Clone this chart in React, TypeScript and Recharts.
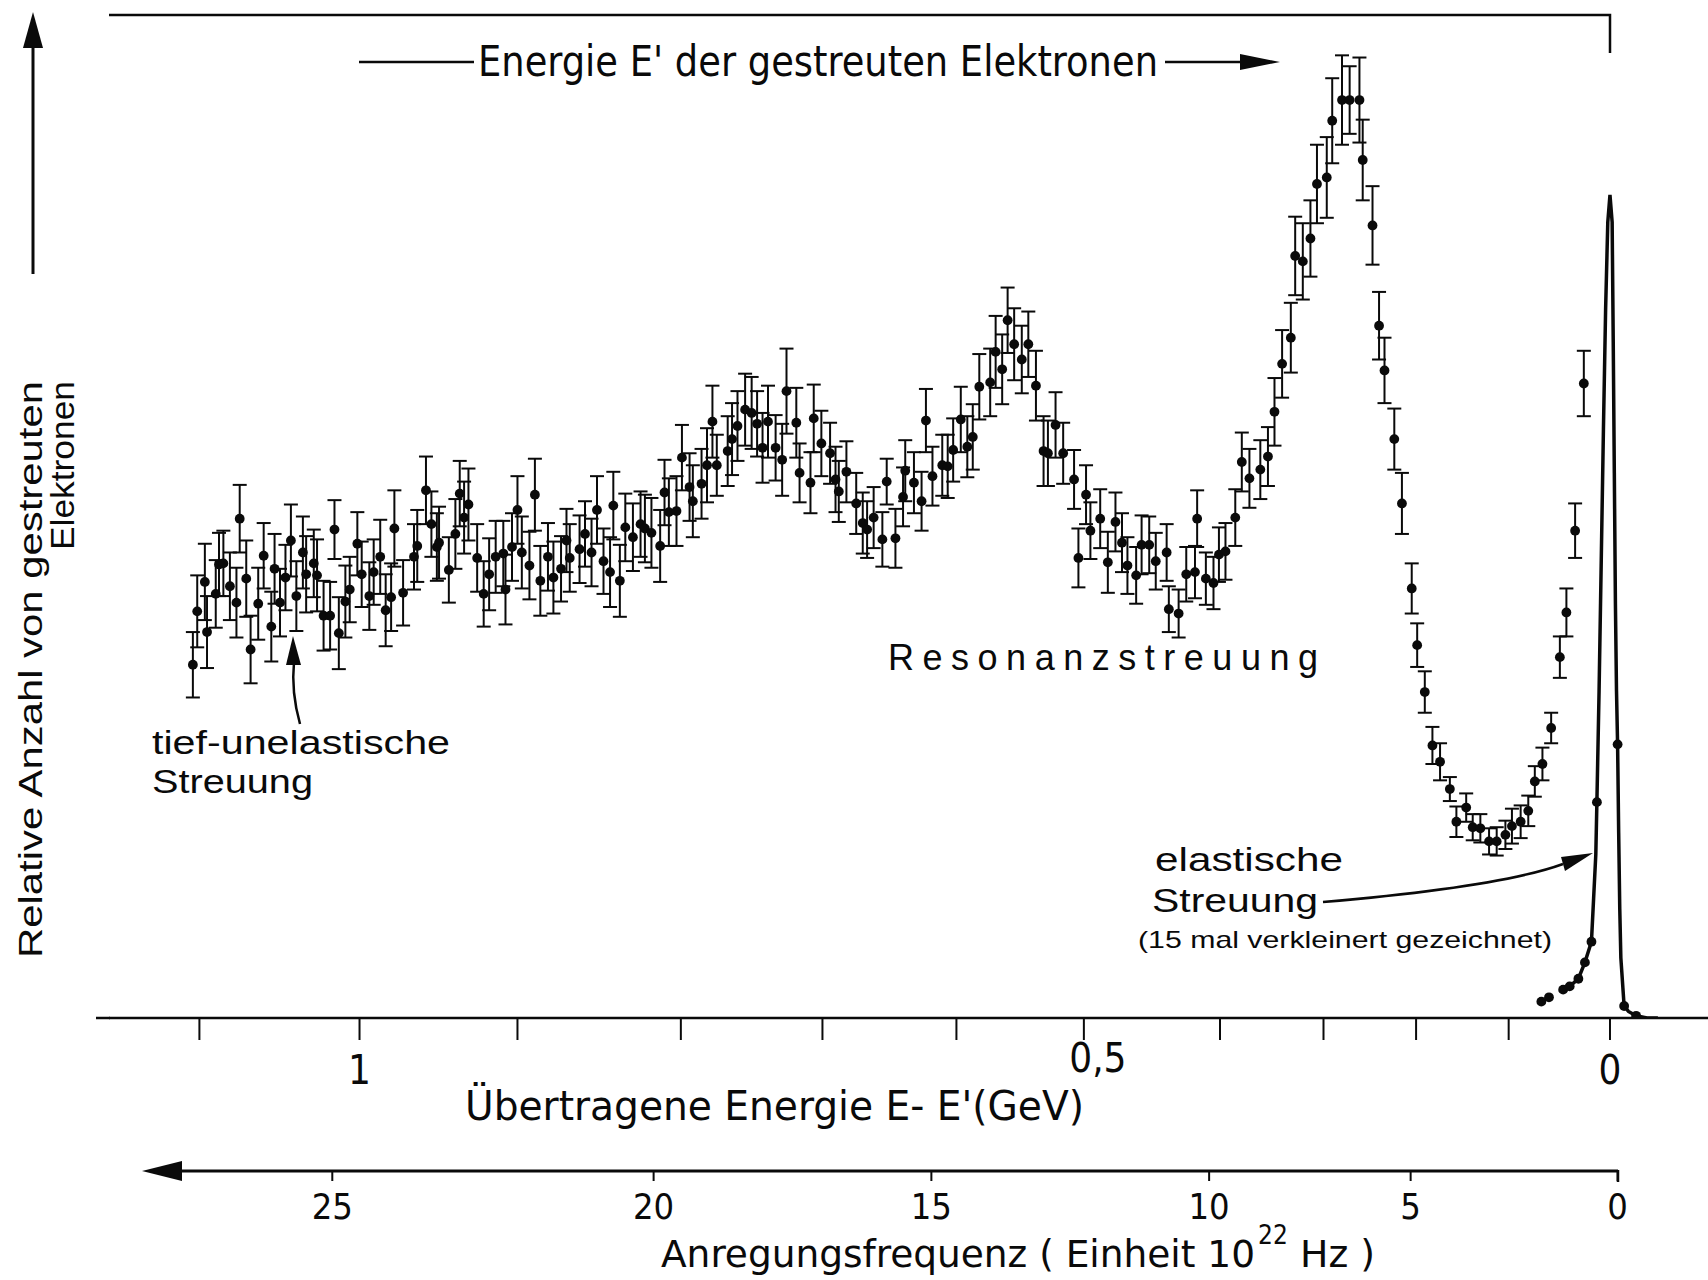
import React from "react";
import { ComposedChart, Scatter, ErrorBar, XAxis, YAxis } from "recharts";

// inelastic spectrum: channel (energy transfer, arbitrary linear units, 0 = elastic peak)
const channel = [
  1301, 1297, 1290, 1288, 1280, 1277, 1273, 1267, 1261, 1258, 1252, 1248, 1241, 1236, 1229, 1226, 1221, 1216, 1211, 1206,
  1200, 1197, 1190, 1187, 1181, 1175, 1171, 1167, 1161, 1157, 1150, 1146, 1139, 1135, 1129, 1124, 1119, 1116, 1108, 1098,
  1095, 1087, 1082, 1077, 1075, 1066, 1060, 1056, 1052, 1048, 1040, 1034, 1029, 1023, 1016, 1014, 1008, 1003, 999, 992,
  987, 982, 975, 970, 963, 958, 955, 946, 941, 935, 930, 924, 918, 915, 909, 904, 897, 890, 886, 880,
  872, 868, 864, 857, 852, 845, 842, 834, 829, 824, 820, 810, 806, 801, 794, 788, 783, 778, 773, 766,
  760, 756, 747, 744, 734, 731, 724, 716, 711, 708, 701, 692, 686, 682, 676, 668, 664, 656, 649, 647,
  639, 632, 628, 622, 613, 608, 603, 596, 590, 585, 579, 569, 564, 558, 553, 547, 540, 534, 527, 520,
  516, 509, 502, 492, 488, 481, 477, 468, 461, 454, 448, 443, 435, 430, 423, 417, 407, 405, 396, 389,
  381, 379, 371, 364, 359, 353, 344, 338, 331, 321, 314, 308, 301, 293, 289, 282, 275, 269, 260, 255,
  246, 239, 230, 227, 218, 212, 207, 198, 191, 182, 177, 170, 163, 156, 147, 141, 132, 126, 119, 111,
  104, 96, 90, 82, 75, 69, 62, 54, 46, 40, 32, 24
];
const counts = [
  324, 373, 400, 354, 389, 416, 417, 396, 381, 458, 403, 338, 380, 424, 359, 412, 381, 404, 438, 387,
  427, 407, 417, 406, 369, 369, 448, 353, 382, 393, 435, 407, 387, 409, 423, 374, 386, 449, 390, 423,
  433, 484, 453, 432, 436, 411, 444, 481, 459, 471, 422, 389, 407, 423, 426, 393, 432, 466, 427, 415,
  480, 401, 423, 404, 412, 438, 422, 430, 444, 427, 466, 419, 409, 470, 401, 450, 441, 453, 449, 445,
  433, 482, 464, 465, 514, 487, 474, 490, 507, 547, 507, 520, 531, 543, 558, 555, 545, 523, 547, 523,
  512, 575, 546, 500, 491, 550, 527, 518, 494, 483, 501, 472, 454, 448, 459, 439, 492, 440, 478, 502,
  491, 474, 548, 497, 507, 506, 521, 549, 524, 533, 579, 583, 611, 595, 640, 618, 604, 618, 580, 520,
  518, 544, 518, 494, 422, 480, 447, 458, 418, 455, 436, 415, 406, 434, 434, 419, 427, 375, 371, 407,
  409, 458, 403, 399, 425, 428, 459, 510, 495, 503, 515, 556, 600, 624, 699, 694, 715, 765, 771, 823,
  842, 842, 842, 787, 727, 635, 594, 531, 472, 394, 342, 299, 250, 235, 210, 180, 193, 175, 174, 162,
  162, 168, 176, 180, 190, 217, 233, 266, 331, 372, 447, 582
];
const countErr = [
  30, 33, 35, 33, 31, 29, 30, 31, 32, 31, 35, 31, 33, 30, 32, 32, 31, 30, 33, 32,
  33, 35, 31, 33, 32, 31, 27, 33, 33, 30, 29, 30, 31, 30, 34, 33, 31, 35, 30, 30,
  33, 31, 30, 31, 33, 30, 32, 30, 33, 33, 31, 30, 33, 33, 30, 32, 31, 31, 33, 31,
  33, 32, 31, 33, 30, 29, 31, 31, 30, 31, 31, 30, 32, 31, 33, 31, 31, 30, 31, 32,
  33, 30, 31, 32, 30, 31, 33, 32, 34, 33, 28, 32, 33, 32, 33, 33, 30, 32, 33, 30,
  33, 39, 32, 27, 28, 31, 30, 28, 30, 28, 28, 28, 28, 26, 28, 25, 21, 27, 27, 28,
  28, 27, 29, 27, 28, 29, 29, 30, 28, 30, 30, 31, 33, 32, 30, 33, 31, 30, 32, 32,
  30, 30, 28, 27, 27, 27, 26, 27, 28, 27, 27, 26, 26, 27, 26, 26, 26, 21, 22, 25,
  24, 26, 24, 24, 25, 26, 26, 27, 27, 27, 27, 31, 31, 32, 36, 35, 35, 36, 37, 39,
  41, 31, 39, 37, 36, 31, 30, 28, 28, 23, 20, 19, 17, 17, 11, 14, 13, 12, 13, 12,
  13, 13, 16, 15, 14, 14, 15, 14, 19, 22, 25, 30
];

// elastic peak (drawn 15 times smaller)
const elasticLineChannel = [37, 29, 23, 17, 15, 13, 12, 10, 8, 6, 4, 2, 0, -2, -3, -4, -5, -6, -7, -8, -9, -10, -13, -17, -24, -34, -44];
const elasticLineCounts = [29, 36, 51, 70, 110, 150, 198, 300, 420, 540, 650, 730, 755, 730, 620, 500, 380, 300, 251, 170, 100, 55, 11, 6, 2, 0, 0];
const elasticDotChannel = [63, 56, 43, 37, 29, 23, 17, 12, -7, -13, -24];
const elasticDotCounts = [15, 19, 26, 29, 36, 51, 70, 198, 251, 11, 2];

// axes
const energyTicks = [1295, 1148, 1003, 853, 723, 600, 483, 358, 263, 178, 93, 0];
const energyTickLabels = ["", "1", "", "", "", "", "0,5", "", "", "", "", "0"];
const freqTicks = [1173, 878, 623, 368, 183, -7];
const freqTickLabels = ["25", "20", "15", "10", "5", "0"];

const points = channel.map((x, i) => ({ x, y: counts[i], err: countErr[i] }));
const elasticLine = elasticLineChannel.map((x, i) => ({ x, y: elasticLineCounts[i] }));
const elasticDots = elasticDotChannel.map((x, i) => ({ x, y: elasticDotCounts[i] }));

const DIN = "'DejaVu Sans Condensed', 'Liberation Sans Narrow', 'Liberation Sans', sans-serif";
const SANS = "'Liberation Sans', Arial, sans-serif";
const INK = "#0a0a0a";

const Dot = (p: any) => <circle cx={p.cx} cy={p.cy} r={4.9} fill={INK} />;

function EnergyTick(p: any) {
  const label = energyTickLabels[energyTicks.indexOf(p.payload.value)];
  if (!label) return <g />;
  const raised = label === "0,5";
  return (
    <text x={p.x + (raised ? 14 : 0)} y={p.y + (raised ? 32 : 44)} textAnchor="middle" fontFamily={DIN} fontSize={40} fill={INK}>
      {label}
    </text>
  );
}

function FreqTick(p: any) {
  const label = freqTickLabels[freqTicks.indexOf(p.payload.value)];
  return (
    <text x={p.x} y={p.y + 38} textAnchor="middle" fontFamily={DIN} fontSize={36} fill={INK}>
      {label}
    </text>
  );
}

export default function App() {
  return (
    <div style={{ position: "relative", width: 1708, height: 1280, background: "#fff" }}>
      <style>{"body{margin:0}"}</style>
      <ComposedChart width={1708} height={1280} margin={{ top: 15, right: 0, bottom: 0, left: 109 }}>
        <XAxis
          xAxisId="e"
          type="number"
          dataKey="x"
          domain={[-90, 1378]}
          allowDataOverflow
          reversed
          ticks={energyTicks}
          interval={0}
          height={153}
          tickSize={22}
          tickMargin={0}
          axisLine={{ stroke: INK, strokeWidth: 2.5 }}
          tickLine={{ stroke: INK, strokeWidth: 2 }}
          tick={EnergyTick}
        />
        <XAxis
          xAxisId="f"
          type="number"
          dataKey="x"
          domain={[-90, 1378]}
          allowDataOverflow
          reversed
          ticks={freqTicks}
          interval={0}
          height={109}
          tickSize={10}
          tickMargin={0}
          axisLine={false}
          tickLine={{ stroke: INK, strokeWidth: 2 }}
          tick={FreqTick}
        />
        <YAxis
          yAxisId="c"
          type="number"
          dataKey="y"
          domain={[0, 920]}
          allowDataOverflow
          width={0}
          tick={false}
          tickLine={false}
          axisLine={{ stroke: INK, strokeWidth: 2.5 }}
        />
        <Scatter xAxisId="e" yAxisId="c" data={points} shape={Dot} isAnimationActive={false}>
          <ErrorBar dataKey="err" direction="y" width={7} stroke={INK} strokeWidth={2} isAnimationActive={false} />
        </Scatter>
        <Scatter
          xAxisId="e"
          yAxisId="c"
          data={elasticLine}
          line={{ stroke: INK, strokeWidth: 3.5 }}
          lineType="joint"
          shape={() => <g />}
          isAnimationActive={false}
        />
        <Scatter xAxisId="e" yAxisId="c" data={elasticDots} shape={Dot} isAnimationActive={false} />
      </ComposedChart>

      <svg width={1708} height={1280} style={{ position: "absolute", left: 0, top: 0, pointerEvents: "none" }}>
        {/* y arrow and label */}
        <line x1={33} y1={274} x2={33} y2={40} stroke={INK} strokeWidth={3} />
        <polygon points="33,12 23,48 43,48" fill={INK} />
        <text transform="translate(42,381) rotate(-90)" textAnchor="end" fontFamily={SANS} fontSize={34} textLength={577} lengthAdjust="spacingAndGlyphs" fill={INK}>
          Relative Anzahl von gestreuten
        </text>
        <text transform="translate(74,381) rotate(-90)" textAnchor="end" fontFamily={SANS} fontSize={33} textLength={169} lengthAdjust="spacingAndGlyphs" fill={INK}>
          Elektronen
        </text>

        {/* frame */}
        <path d="M109,15 H1610 V53" fill="none" stroke={INK} strokeWidth={2.5} />
        <line x1={96} y1={1018} x2={110} y2={1018} stroke={INK} strokeWidth={2.5} />

        {/* top annotation */}
        <line x1={359} y1={62} x2={474} y2={62} stroke={INK} strokeWidth={2.5} />
        <text x={478} y={76} fontFamily={DIN} fontSize={42} textLength={680} lengthAdjust="spacingAndGlyphs" fill={INK}>
          Energie E' der gestreuten Elektronen
        </text>
        <line x1={1165} y1={62} x2={1245} y2={62} stroke={INK} strokeWidth={2.5} />
        <polygon points="1280,62 1240,54 1240,70" fill={INK} />

        {/* axis titles */}
        <text x={465} y={1120} fontFamily={DIN} fontSize={40} textLength={619} lengthAdjust="spacingAndGlyphs" fill={INK}>
          Übertragene Energie E- E'(GeV)
        </text>
        <line x1={170} y1={1171} x2={1618} y2={1171} stroke={INK} strokeWidth={3} />
        <line x1={1618} y1={1170} x2={1618} y2={1182} stroke={INK} strokeWidth={2.5} />
        <polygon points="142,1171 182,1161 182,1181" fill={INK} />
        <text x={661} y={1267} fontFamily={DIN} fontSize={37} textLength={594} lengthAdjust="spacingAndGlyphs" fill={INK}>
          Anregungsfrequenz ( Einheit  10
        </text>
        <text x={1258} y={1244} fontFamily={DIN} fontSize={26} fill={INK}>22</text>
        <text x={1300} y={1267} fontFamily={DIN} fontSize={37} textLength={75} lengthAdjust="spacingAndGlyphs" fill={INK}>
          Hz )
        </text>

        {/* annotations */}
        <text x={888} y={670} fontFamily={SANS} fontSize={36} textLength={430} lengthAdjust="spacing" fill={INK}>
          Resonanzstreuung
        </text>
        <text x={152} y={754} fontFamily={SANS} fontSize={34} textLength={298} lengthAdjust="spacingAndGlyphs" fill={INK}>
          tief-unelastische
        </text>
        <text x={152} y={793} fontFamily={SANS} fontSize={34} textLength={161} lengthAdjust="spacingAndGlyphs" fill={INK}>
          Streuung
        </text>
        <path d="M300,724 Q291,692 294,662" fill="none" stroke={INK} strokeWidth={2.5} />
        <polygon points="293,636 286,665 301,665" fill={INK} />

        <text x={1155} y={871} fontFamily={SANS} fontSize={34} textLength={188} lengthAdjust="spacingAndGlyphs" fill={INK}>
          elastische
        </text>
        <text x={1152} y={912} fontFamily={SANS} fontSize={34} textLength={166} lengthAdjust="spacingAndGlyphs" fill={INK}>
          Streuung
        </text>
        <text x={1138} y={948} fontFamily={SANS} fontSize={24} textLength={414} lengthAdjust="spacingAndGlyphs" fill={INK}>
          (15 mal verkleinert gezeichnet)
        </text>
        <path d="M1323,902 Q1500,887 1563,864" fill="none" stroke={INK} strokeWidth={2.5} />
        <polygon points="1593,853 1565,871 1561,857" fill={INK} />
      </svg>
    </div>
  );
}
